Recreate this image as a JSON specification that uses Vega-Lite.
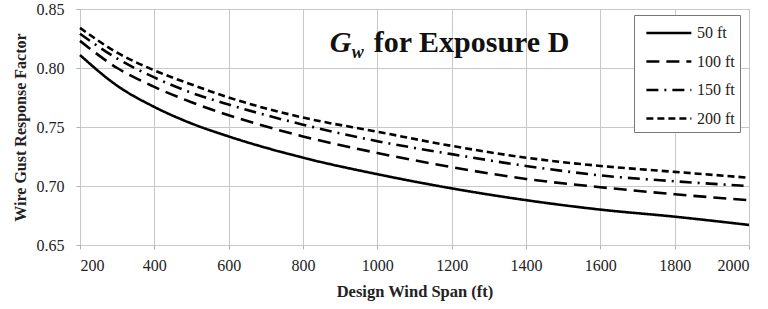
{
  "$schema": "https://vega.github.io/schema/vega-lite/v6.json",
  "width": 669,
  "height": 236,
  "autosize": {"type": "none"},
  "padding": {"left": 80, "top": 9, "right": 19, "bottom": 64},
  "background": "white",
  "config": {
    "font": "'Liberation Serif', serif",
    "view": {"stroke": "#b0b0b0", "strokeWidth": 1},
    "axis": {
      "labelFont": "'Liberation Serif', serif",
      "titleFont": "'Liberation Serif', serif",
      "labelColor": "#222",
      "titleColor": "#222",
      "gridColor": "#c8c8c8",
      "domainColor": "#b0b0b0",
      "tickColor": "#b0b0b0"
    },
    "legend": {"labelFont": "'Liberation Serif', serif"},
    "text": {"font": "'Liberation Serif', serif"}
  },
  "data": {
    "values": [
      {"span": 200, "h": "50 ft", "g": 0.811}, {"span": 300, "h": "50 ft", "g": 0.785}, {"span": 400, "h": "50 ft", "g": 0.767}, {"span": 500, "h": "50 ft", "g": 0.753}, {"span": 600, "h": "50 ft", "g": 0.742}, {"span": 800, "h": "50 ft", "g": 0.724}, {"span": 1000, "h": "50 ft", "g": 0.710}, {"span": 1200, "h": "50 ft", "g": 0.698}, {"span": 1400, "h": "50 ft", "g": 0.688}, {"span": 1600, "h": "50 ft", "g": 0.680}, {"span": 1800, "h": "50 ft", "g": 0.674}, {"span": 2000, "h": "50 ft", "g": 0.667},
      {"span": 200, "h": "100 ft", "g": 0.823}, {"span": 300, "h": "100 ft", "g": 0.800}, {"span": 400, "h": "100 ft", "g": 0.784}, {"span": 500, "h": "100 ft", "g": 0.771}, {"span": 600, "h": "100 ft", "g": 0.760}, {"span": 800, "h": "100 ft", "g": 0.742}, {"span": 1000, "h": "100 ft", "g": 0.728}, {"span": 1200, "h": "100 ft", "g": 0.716}, {"span": 1400, "h": "100 ft", "g": 0.706}, {"span": 1600, "h": "100 ft", "g": 0.699}, {"span": 1800, "h": "100 ft", "g": 0.693}, {"span": 2000, "h": "100 ft", "g": 0.688},
      {"span": 200, "h": "150 ft", "g": 0.829}, {"span": 300, "h": "150 ft", "g": 0.808}, {"span": 400, "h": "150 ft", "g": 0.792}, {"span": 500, "h": "150 ft", "g": 0.779}, {"span": 600, "h": "150 ft", "g": 0.769}, {"span": 800, "h": "150 ft", "g": 0.752}, {"span": 1000, "h": "150 ft", "g": 0.738}, {"span": 1200, "h": "150 ft", "g": 0.727}, {"span": 1400, "h": "150 ft", "g": 0.717}, {"span": 1600, "h": "150 ft", "g": 0.709}, {"span": 1800, "h": "150 ft", "g": 0.704}, {"span": 2000, "h": "150 ft", "g": 0.700},
      {"span": 200, "h": "200 ft", "g": 0.834}, {"span": 300, "h": "200 ft", "g": 0.813}, {"span": 400, "h": "200 ft", "g": 0.798}, {"span": 500, "h": "200 ft", "g": 0.786}, {"span": 600, "h": "200 ft", "g": 0.775}, {"span": 800, "h": "200 ft", "g": 0.758}, {"span": 1000, "h": "200 ft", "g": 0.746}, {"span": 1200, "h": "200 ft", "g": 0.734}, {"span": 1400, "h": "200 ft", "g": 0.724}, {"span": 1600, "h": "200 ft", "g": 0.717}, {"span": 1800, "h": "200 ft", "g": 0.712}, {"span": 2000, "h": "200 ft", "g": 0.707}
    ]
  },
  "layer": [
    {
      "mark": {"type": "line", "interpolate": "monotone", "strokeWidth": 2.6, "color": "black"},
      "encoding": {
        "x": {
          "field": "span", "type": "quantitative",
          "scale": {"domain": [200, 2000], "nice": false},
          "axis": {"values": [200,400,600,800,1000,1200,1400,1600,1800,2000], "format": "d", "title": "Design Wind  Span (ft)", "titleFontWeight": "bold", "titleFontSize": 16.5, "labelFontSize": 16, "tickSize": 4, "labelPadding": 8, "titlePadding": 10, "grid": true, "domain": false}
        },
        "y": {
          "field": "g", "type": "quantitative",
          "scale": {"domain": [0.65, 0.85], "nice": false, "zero": false},
          "axis": {"values": [0.65,0.70,0.75,0.80,0.85], "format": ".2f", "title": "Wire Gust Response Factor", "titleFontWeight": "bold", "titleFontSize": 16, "labelFontSize": 16, "tickSize": 4, "labelPadding": 12, "titlePadding": 8, "grid": true, "domain": false}
        },
        "strokeDash": {
          "field": "h", "type": "nominal",
          "scale": {"domain": ["50 ft", "100 ft", "150 ft", "200 ft"], "range": [[1, 0], [13, 7], [12, 6, 2, 6], [7, 4]]},
          "legend": {
            "title": null, "orient": "none", "legendX": 554, "legendY": 6,
            "strokeColor": "#777", "fillColor": "white", "padding": 5,
            "symbolType": "M-0.5,0H3.5", "symbolSize": 506, "symbolStrokeWidth": 2.6, "symbolStrokeColor": "black",
            "labelFontSize": 16, "labelColor": "#222", "labelOffset": 32,
            "rowPadding": 7.5
          }
        }
      }
    },
    {
      "data": {"values": [{}]},
      "mark": {"type": "text", "fontSize": 30, "fontWeight": "bold", "fontStyle": "italic", "align": "left", "baseline": "alphabetic", "color": "#111"},
      "encoding": {"x": {"datum": 872}, "y": {"datum": 0.8136}, "text": {"value": "G"}}
    },
    {
      "data": {"values": [{}]},
      "mark": {"type": "text", "fontSize": 18, "fontWeight": "bold", "fontStyle": "italic", "align": "left", "baseline": "alphabetic", "color": "#111", "dx": 22, "dy": 6},
      "encoding": {"x": {"datum": 872}, "y": {"datum": 0.8136}, "text": {"value": "w"}}
    },
    {
      "data": {"values": [{}]},
      "mark": {"type": "text", "fontSize": 30, "fontWeight": "bold", "align": "left", "baseline": "alphabetic", "color": "#111", "dx": 44},
      "encoding": {"x": {"datum": 872}, "y": {"datum": 0.8136}, "text": {"value": "for Exposure  D"}}
    }
  ]
}
